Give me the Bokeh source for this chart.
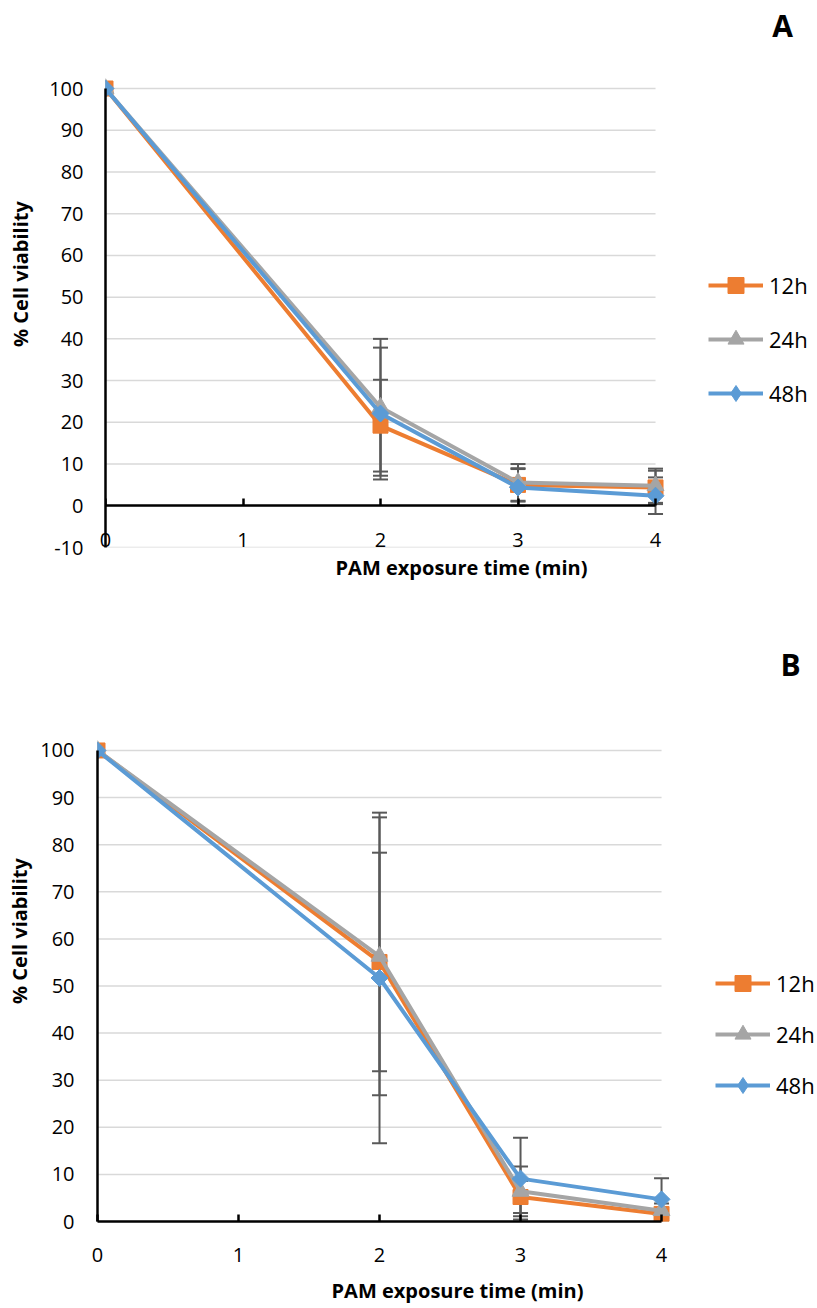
import numpy as np
from bokeh.plotting import figure
from bokeh.models import (ColumnDataSource, Whisker, TeeHead, Legend, LegendItem,
                          FixedTicker, LinearAxis, Range1d, Label)
from bokeh.layouts import column
from bokeh.embed import file_html
from bokeh.resources import INLINE

# ---------------- data ----------------
series = ["12h", "24h", "48h"]
colors = ["#ED7D31", "#A5A5A5", "#5B9BD5"]

time_min = [0, 2, 3, 4]
x_ticks = [0, 1, 2, 3, 4]

# Panel A
a_12h = [100, 19.2, 5.0, 4.4]
a_24h = [100, 23.6, 5.6, 4.8]
a_48h = [100, 22.1, 4.4, 2.4]
a_12h_err = [0, 11.0, 4.0, 4.0]
a_24h_err = [0, 16.4, 4.4, 4.1]
a_48h_err = [0, 15.8, 4.4, 4.4]
a_y_ticks = [-10, 0, 10, 20, 30, 40, 50, 60, 70, 80, 90, 100]

# Panel B
b_12h = [100, 55.1, 5.2, 1.6]
b_24h = [100, 56.3, 6.4, 2.3]
b_48h = [100, 51.7, 9.1, 4.7]
b_12h_err = [0, 23.2, 3.4, 1.0]
b_24h_err = [0, 29.5, 5.3, 1.5]
b_48h_err = [0, 35.1, 8.7, 4.5]
b_y_ticks = [0, 10, 20, 30, 40, 50, 60, 70, 80, 90, 100]

FONT = "Open Sans"
ERR_COLOR = "#595959"
GRID_COLOR = "#D9D9D9"


def make_panel(height, left, bottom, x_end, y_start, y_end, y_ticks, vals, errs,
               fixed_x, x_std, x_title_std, y_std, y_title_std,
               leg_loc, leg_spacing, letter, letter_off):
    x0, x1 = x_ticks[0], x_ticks[-1]
    y0, y1 = y_ticks[0], y_ticks[-1]
    # the frame reaches the top and right edges so that legend and letter are not clipped
    p = figure(width=817, height=height, x_range=Range1d(x0, x_end),
               y_range=Range1d(y_start, y_end), output_backend="svg",
               toolbar_location=None, frame_align=False,
               min_border_left=left, min_border_right=0,
               min_border_top=0, min_border_bottom=bottom,
               outline_line_color=None, background_fill_color="white",
               border_fill_color="white")
    p.grid.visible = False

    # ---- x axis (labels + title) ----
    xax = p.xaxis[0]
    xax.ticker = FixedTicker(ticks=x_ticks)
    xax.bounds = (x0, x1)
    xax.major_label_text_font = FONT
    xax.major_label_text_font_size = "20px"
    xax.major_label_text_color = "black"
    xax.major_label_standoff = x_std
    xax.minor_tick_line_color = None
    xax.axis_label = "PAM exposure time (min)"
    xax.axis_label_text_font = FONT
    xax.axis_label_text_font_style = "bold"
    xax.axis_label_text_font_size = "20px"
    xax.axis_label_text_color = "black"
    xax.axis_label_standoff = x_title_std
    if fixed_x:
        xax.axis_line_color = None
        xax.major_tick_line_color = None
        xax.major_tick_in = 0
        xax.major_tick_out = 0
        rule = LinearAxis(fixed_location=0, ticker=FixedTicker(ticks=x_ticks),
                          bounds=(x0, x1), major_label_standoff=0,
                          major_label_overrides={t: "" for t in x_ticks})
        p.add_layout(rule, "below")
    else:
        rule = xax
    rule.axis_line_color = "black"
    rule.axis_line_width = 2.5
    rule.major_tick_in = 7
    rule.major_tick_out = 0
    rule.major_tick_line_color = "black"
    rule.major_tick_line_width = 2.5
    rule.minor_tick_line_color = None

    # ---- y axis ----
    yax = p.yaxis[0]
    yax.ticker = FixedTicker(ticks=y_ticks)
    yax.bounds = (y0, y1)
    yax.axis_line_color = "black"
    yax.axis_line_width = 2.5
    yax.major_tick_in = 0
    yax.major_tick_out = 0
    yax.minor_tick_line_color = None
    yax.major_label_text_font = FONT
    yax.major_label_text_font_size = "20px"
    yax.major_label_text_color = "black"
    yax.major_label_standoff = y_std
    yax.major_label_overrides = {t: str(t) for t in y_ticks}
    yax.axis_label = "% Cell viability"
    yax.axis_label_text_font = FONT
    yax.axis_label_text_font_style = "bold"
    yax.axis_label_text_font_size = "20px"
    yax.axis_label_text_color = "black"
    yax.axis_label_standoff = y_title_std

    # ---- horizontal gridlines between x = 0 and x = 4 ----
    p.segment(x0=[x0] * len(y_ticks), x1=[x1] * len(y_ticks),
              y0=y_ticks, y1=y_ticks, line_color=GRID_COLOR, line_width=1.5,
              level="underlay")

    # ---- error bars ----
    for v, e in zip(vals, errs):
        src = ColumnDataSource(dict(
            x=time_min,
            upper=[a + b for a, b in zip(v, e)],
            lower=[a - b for a, b in zip(v, e)]))
        w = Whisker(base="x", upper="upper", lower="lower", source=src,
                    dimension="height", line_color=ERR_COLOR, line_width=2,
                    upper_head=TeeHead(size=15, line_color=ERR_COLOR, line_width=2),
                    lower_head=TeeHead(size=15, line_color=ERR_COLOR, line_width=2),
                    level="underlay")
        p.add_layout(w)

    # ---- series ----
    items = []
    for i, (v, name, c) in enumerate(zip(vals, series, colors)):
        src = ColumnDataSource(dict(x=time_min, y=v))
        lr = p.line("x", "y", source=src, line_color=c, line_width=4)
        if i == 0:
            mr = p.scatter("x", "y", source=src, marker="square", size=15,
                           fill_color=c, line_color=c)
            leg_r = [lr, mr]
        elif i == 1:
            mr = p.scatter("x", "y", source=src, marker="triangle", size=17,
                           fill_color=c, line_color=c)
            leg_r = [lr, mr]
        else:
            # narrow diamond (used as legend swatch, since legends ignore angles),
            # fully covered by the Excel-style diamond: a square turned 45 degrees
            sw = p.scatter("x", "y", source=src, marker="diamond", size=16,
                           fill_color=c, line_color=c)
            mr = p.scatter("x", "y", source=src, marker="square", size=12,
                           angle=np.pi / 4, fill_color=c, line_color=c)
            leg_r = [lr, sw]
        items.append(LegendItem(label=name, renderers=leg_r))

    leg = Legend(items=items, location=leg_loc, orientation="vertical",
                 padding=0, margin=0, spacing=leg_spacing,
                 glyph_width=55, glyph_height=40, label_height=20,
                 label_standoff=6, label_text_font=FONT,
                 label_text_font_size="22px", label_text_color="black",
                 border_line_color=None, background_fill_alpha=0)
    p.add_layout(leg)

    # ---- panel letter ----
    p.add_layout(Label(x=x1, y=y1, x_offset=letter_off[0], y_offset=letter_off[1],
                       text=letter, text_align="center", text_baseline="middle",
                       text_font=FONT, text_font_style="bold",
                       text_font_size="30px", text_color="black"))
    return p


# frame: A spans x 105..655 for 0..4, y 88..547 for 100..-10
pA = make_panel(640, 105, 93, 5.178, -10, 121.09, a_y_ticks,
                [a_12h, a_24h, a_48h], [a_12h_err, a_24h_err, a_48h_err],
                True, -15, 4, 22, 12, (603, 134), 14, "A", (127, 63))
# B spans x 97..661 for 0..4, y 750..1221 for 100..0
pB = make_panel(668, 97, 87, 5.106, 0, 123.35, b_y_ticks,
                [b_12h, b_24h, b_48h], [b_12h_err, b_24h_err, b_48h_err],
                False, 26, 12, 23, 4, (618, 116), 11, "B", (129, 86))

layout = column(pA, pB, spacing=0)
open("out.html", "w").write(file_html(layout, INLINE))
